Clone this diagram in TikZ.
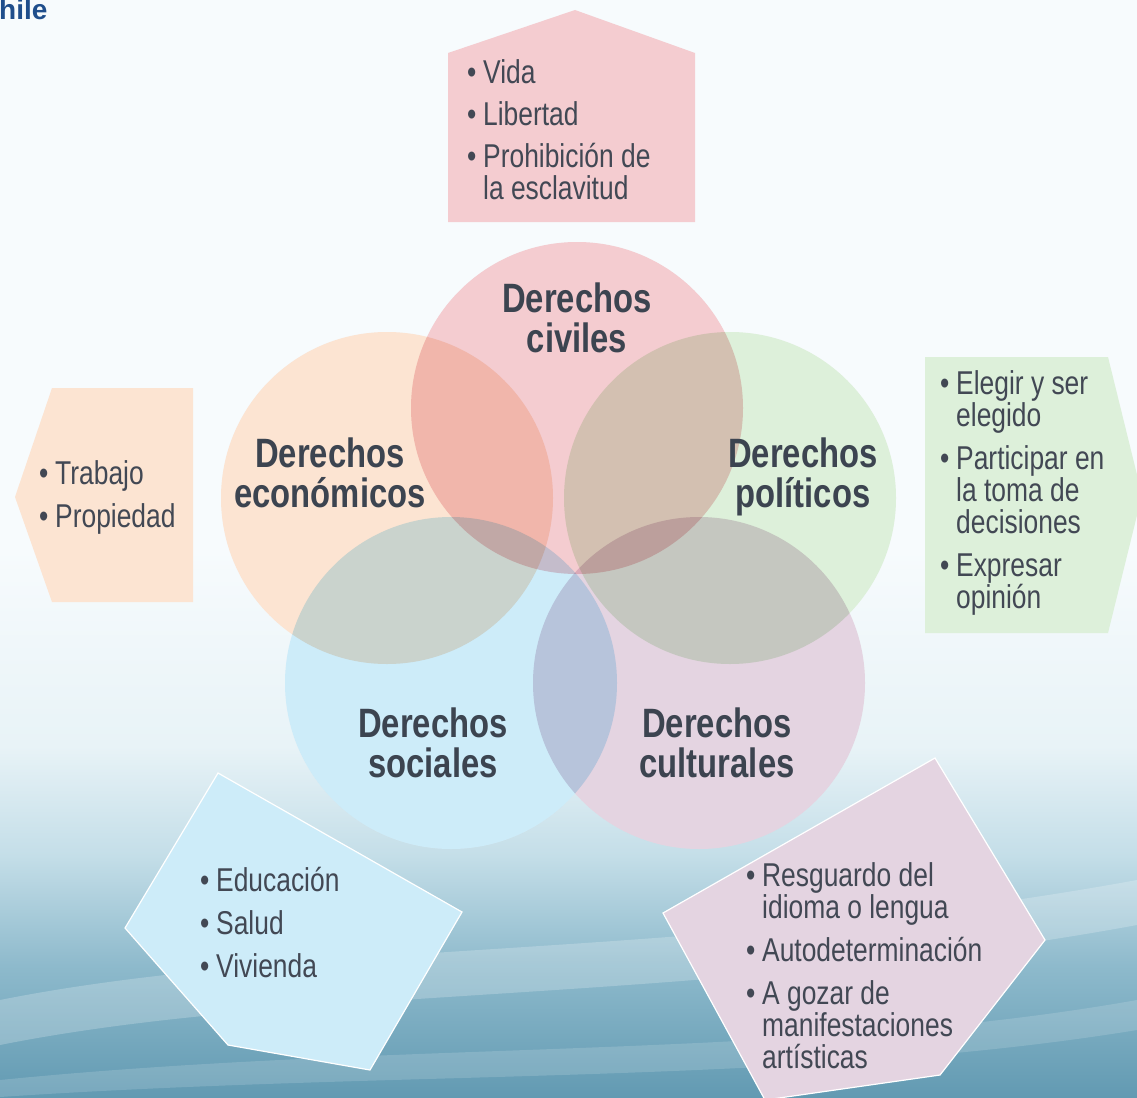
\documentclass[tikz,border=0pt]{standalone}
\usepackage{fontspec}
\setmainfont{Liberation Sans}[FakeStretch=0.8]
\newfontfamily\plainsans{Liberation Sans}
\usepackage{xcolor}
\usetikzlibrary{positioning}

\definecolor{civpink}{RGB}{244,204,208}
\definecolor{ecopeach}{RGB}{252,228,210}
\definecolor{polgreen}{RGB}{221,240,218}
\definecolor{socblue}{RGB}{205,236,249}
\definecolor{culmauve}{RGB}{228,212,225}
\definecolor{labelgray}{RGB}{60,68,80}
\definecolor{listgray}{RGB}{66,72,84}
\definecolor{chileblue}{RGB}{31,78,140}
\definecolor{bgtop}{RGB}{247,251,253}
\definecolor{bgmid}{RGB}{232,243,247}
\definecolor{bglight}{RGB}{196,222,232}
\definecolor{bglow}{RGB}{142,186,204}
\definecolor{bgbottom}{RGB}{98,154,178}

\pgfdeclareverticalshading{bgshade}{100bp}{color(0bp)=(bgbottom); color(25bp)=(bgbottom); color(31bp)=(bglow); color(36bp)=(bglight); color(41bp)=(bgmid); color(50bp)=(bgtop); color(100bp)=(bgtop)}

\newcommand{\bul}{\makebox[16pt][l]{\textbullet}}
\newcommand{\ind}{\hspace*{16pt}}

\begin{document}
\begin{tikzpicture}[x=1pt, y=-1pt,
    circlabel/.style={font=\bfseries\fontsize{41}{40}\selectfont, text=labelgray, align=center, inner sep=0pt},
    itemlist/.style={font=\fontsize{33}{32}\selectfont, text=listgray, align=left, anchor=base west, inner sep=0pt},
    edged/.style={draw=white, line width=1.2pt}]
    \useasboundingbox (0, 0) rectangle (1137, 1097);

    % background
    \shade [shading=bgshade] (0, 0) rectangle (1137, 1097);
    \fill [white, opacity=0.22] (0, 1000) .. controls (300, 940) and (700, 960) .. (1137, 880)
        -- (1137, 925) .. controls (700, 1005) and (300, 985) .. (0, 1045) -- cycle;
    \fill [white, opacity=0.15] (0, 1080) .. controls (400, 1040) and (800, 1060) .. (1137, 1000)
        -- (1137, 1030) .. controls (800, 1085) and (400, 1070) .. (0, 1097) -- cycle;
    \node [font=\plainsans\bfseries\fontsize{28}{28}\selectfont, text=chileblue, anchor=base west, inner sep=0pt] (chile) at (-1, 20) {hile};

    % circles
    \foreach \cx/\cy in {577/408, 387/498, 730/498, 451/683, 699/683}
        \fill [white] (\cx, \cy) circle (166pt);
    \begin{scope}[blend mode=multiply]
        \fill [civpink] (577, 408) circle (166pt);
        \fill [ecopeach] (387, 498) circle (166pt);
        \fill [polgreen] (730, 498) circle (166pt);
        \fill [socblue] (451, 683) circle (166pt);
        \fill [culmauve] (699, 683) circle (166pt);
    \end{scope}

    % labels (base = last line)
    \node [circlabel, anchor=base] (civiles) at (577, 352) {Derechos\\civiles};
    \node [circlabel, anchor=base] (economicos) at (330, 507) {Derechos\\económicos};
    \node [circlabel, anchor=base] (politicos) at (803, 507) {Derechos\\políticos};
    \node [circlabel, anchor=base] (sociales) at (433, 777) {Derechos\\sociales};
    \node [circlabel, anchor=base] (culturales) at (717, 777) {Derechos\\culturales};

    % lists
    \fill [civpink] (448, 222) -- (448, 53) -- (575, 10) -- (695, 53) -- (695, 222) -- cycle;
    \node [itemlist] (civlist) at (467, 199)
        {\bul Vida\\[10pt] \bul Libertad\\[10pt] \bul Prohibición de\\ \ind la esclavitud};

    \fill [ecopeach] (52, 388) -- (193, 388) -- (193, 602) -- (52, 602) -- (15, 497) -- cycle;
    \node [itemlist] (ecolist) at (39, 527) {\bul Trabajo\\[11pt] \bul Propiedad};

    \fill [polgreen] (925, 357) -- (1108, 357) -- (1142, 495) -- (1108, 633) -- (925, 633) -- cycle;
    \node [itemlist] (pollist) at (940, 608)
        {\bul Elegir y ser\\ \ind elegido\\[11pt] \bul Participar en\\ \ind la toma de\\ \ind decisiones\\[11pt]
         \bul Expresar\\ \ind opinión};

    \fill [socblue, edged] (218, 773) -- (462, 912) -- (370, 1070) -- (228, 1045) -- (125, 928) -- cycle;
    \node [itemlist] (soclist) at (200, 977) {\bul Educación\\[11pt] \bul Salud\\[11pt] \bul Vivienda};

    \fill [culmauve, edged] (935, 758) -- (1045, 940) -- (940, 1075) -- (765, 1100) -- (663, 913) -- cycle;
    \node [itemlist] (cullist) at (746, 1068)
        {\bul Resguardo del\\ \ind idioma o lengua\\[11pt] \bul Autodeterminación\\[11pt]
         \bul A gozar de\\ \ind manifestaciones\\ \ind artísticas};
\end{tikzpicture}
\end{document}
